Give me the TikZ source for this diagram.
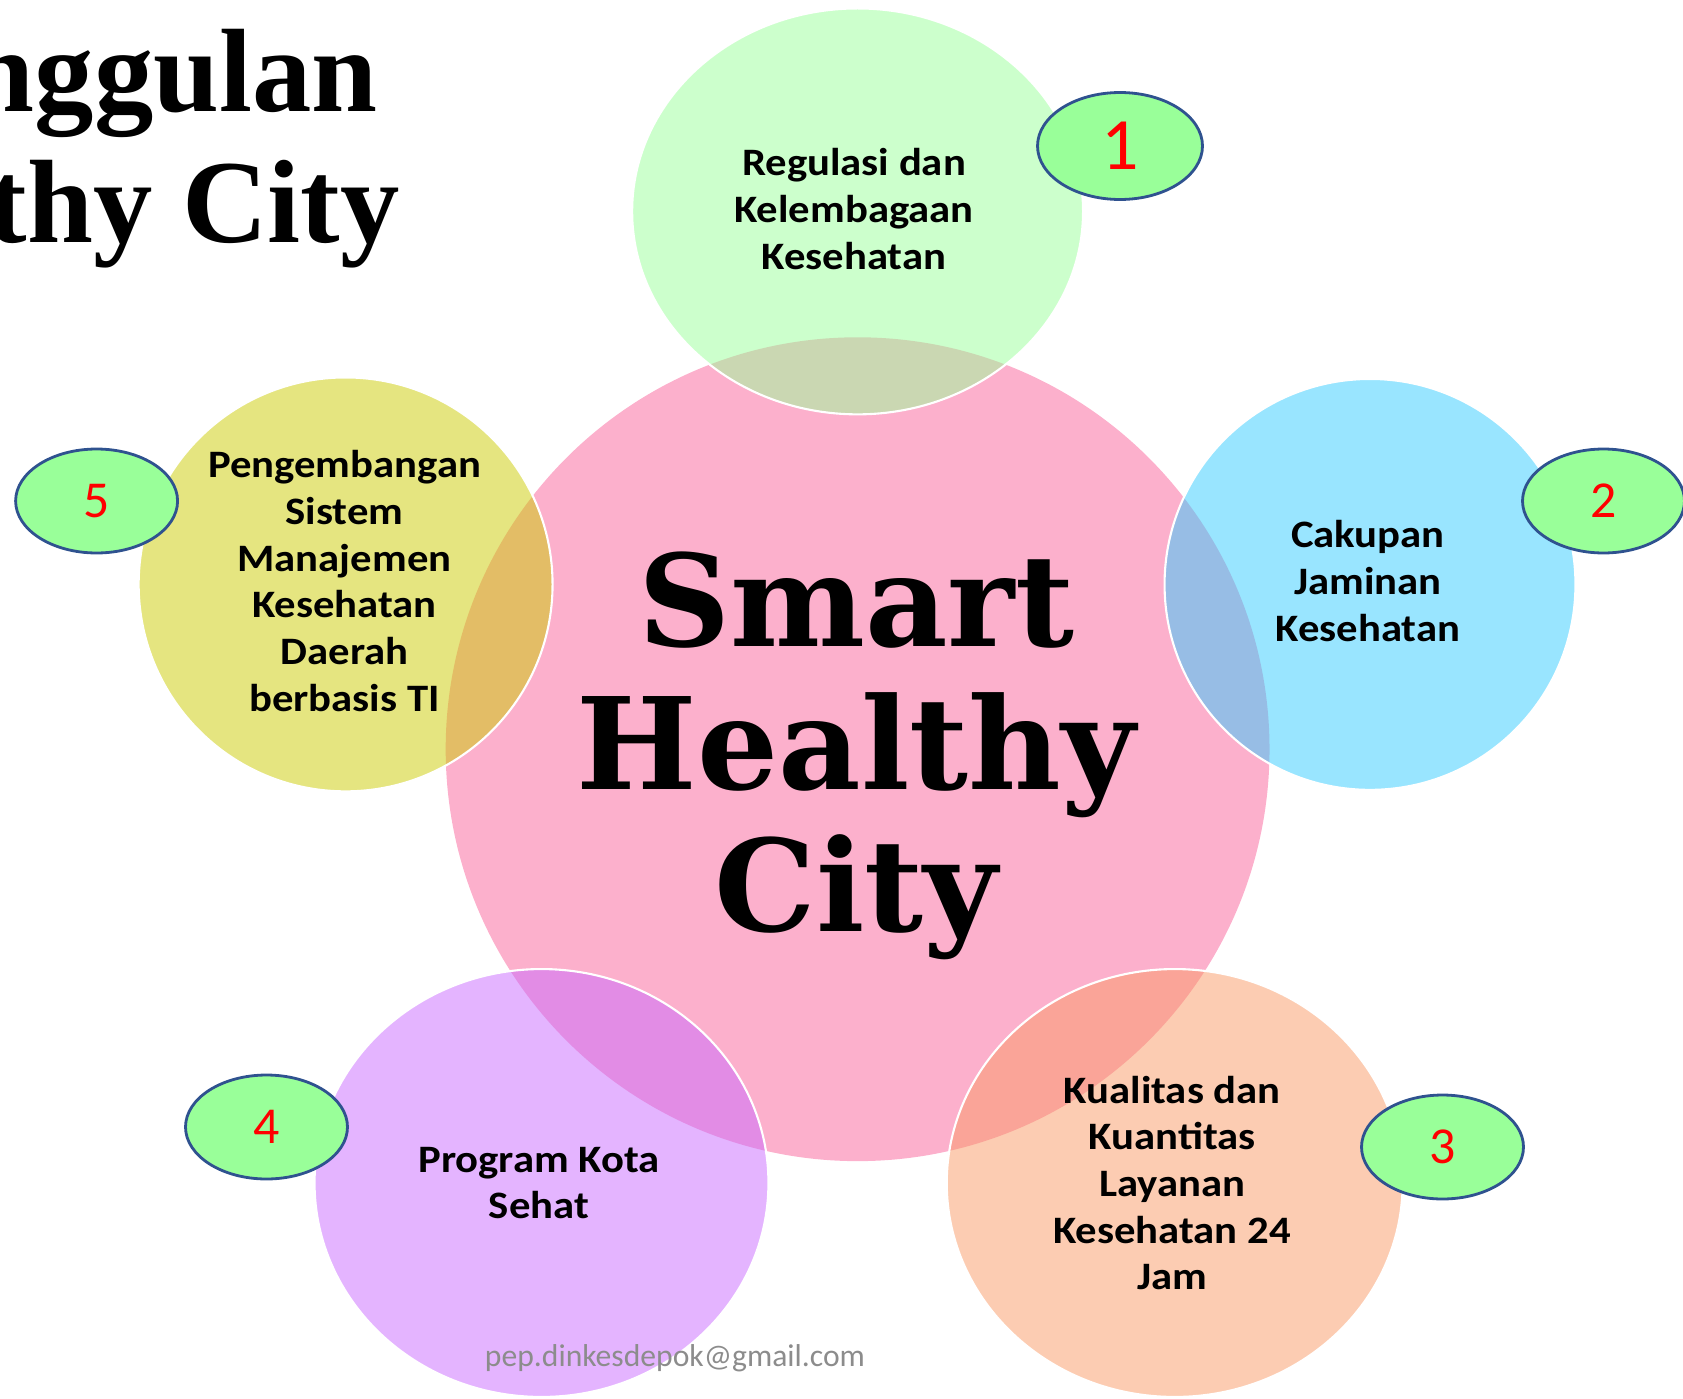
\documentclass[tikz,border=0pt]{standalone}
\usepackage{fontspec}
\setmainfont{Carlito}
\newfontfamily\slabfont{DejaVu Serif}
\newfontfamily\titlefont{Liberation Serif}
\newfontfamily\sidefont[FakeStretch=1.1]{Carlito}
\usetikzlibrary{shapes.geometric}

\definecolor{hubpink}{RGB}{252,176,204}
\definecolor{regulasigreen}{RGB}{153,255,153}
\definecolor{jaminanblue}{RGB}{51,203,255}
\definecolor{layananpeach}{RGB}{249,153,101}
\definecolor{kotapurple}{RGB}{201,105,255}
\definecolor{simkesyellow}{RGB}{203,203,1}
\definecolor{taggreen}{RGB}{153,255,153}
\definecolor{tagblue}{RGB}{47,82,143}
\definecolor{mailgray}{RGB}{140,140,140}

\tikzset{
  bubble/.style={ellipse, draw=white, line width=1.2pt, fill opacity=0.5, inner sep=0pt, outer sep=0pt},
  tag/.style={ellipse, draw=tagblue, line width=1.6pt, fill=taggreen, text=red, inner sep=0pt,
    minimum width=3.24cm, minimum height=2.08cm, font=\fontsize{29.5}{30}\selectfont},
  topic/.style={align=center, inner sep=0pt, font=\sidefont\bfseries\fontsize{22.1}{26.6}\selectfont}
}

\begin{document}
\begin{tikzpicture}[x=0.02cm, y=-0.02cm]
\useasboundingbox (0,0) rectangle (1683,1399);
\clip (0,0) rectangle (1683,1399);

% title, cut at the left edge
\node[anchor=base east, inner sep=0pt, font=\titlefont\bfseries\fontsize{67.5}{73.7}\selectfont] (title1) at (378,112) {nggulan};
\node[anchor=base east, inner sep=0pt, font=\titlefont\bfseries\fontsize{67.5}{73.7}\selectfont] (title2) at (400,242) {thy City};

% hub and the five bubbles
\node[circle, fill=hubpink, inner sep=0pt, minimum size=16.48cm] (hub) at (857.6,749.2) {};
\node[bubble, fill=regulasigreen, minimum width=9.02cm, minimum height=8.12cm] (regulasi) at (857.6,211.4) {};
\node[bubble, fill=jaminanblue, minimum width=8.22cm, minimum height=8.22cm] (jaminan) at (1370,584.4) {};
\node[bubble, fill=layananpeach, minimum width=9.12cm, minimum height=8.56cm] (layanan) at (1174.7,1183) {};
\node[bubble, fill=kotapurple, minimum width=9.08cm, minimum height=8.56cm] (kotasehat) at (541.5,1183) {};
\node[bubble, fill=simkesyellow, minimum width=8.28cm, minimum height=8.28cm] (simkesda) at (345.6,584.4) {};

% texts
\node[align=center, inner sep=0pt, font=\slabfont\bfseries\fontsize{72.6}{81}\selectfont] (hub-txt) at (856,756) {Smart\\Healthy\\City};
\node[topic] (regulasi-txt) at (854,209) {Regulasi dan\\Kelembagaan\\Kesehatan};
\node[topic] (jaminan-txt) at (1368,581) {Cakupan\\Jaminan\\Kesehatan};
\node[topic] (layanan-txt) at (1172,1183) {Kualitas dan\\Kuantitas\\Layanan\\Kesehatan 24\\Jam};
\node[topic] (kotasehat-txt) at (539,1183) {Program Kota\\Sehat};
\node[topic] (simkesda-txt) at (344.5,581) {Pengembangan\\Sistem\\Manajemen\\Kesehatan\\Daerah\\berbasis TI};

% number tags
\node[tag, minimum width=3.3cm, minimum height=2.14cm, font=\fontsize{42}{44}\selectfont] (tag1) at (1120,146) {1};
\node[tag] (tag2) at (1603.5,501) {2};
\node[tag] (tag3) at (1442.5,1147) {3};
\node[tag] (tag4) at (266.5,1127) {4};
\node[tag] (tag5) at (96.6,501) {5};

\node[anchor=base, inner sep=0pt, text=mailgray, font=\fontsize{18}{20}\selectfont] (mail) at (675,1366) {pep.dinkesdepok@gmail.com};
\end{tikzpicture}
\end{document}
